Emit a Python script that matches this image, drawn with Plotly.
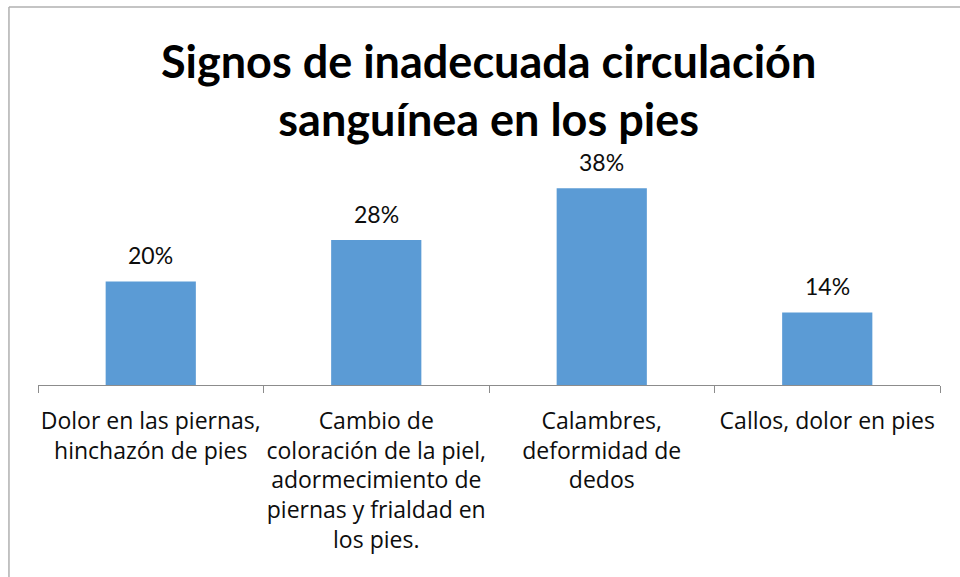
import plotly.graph_objects as go

categories = [
    "Dolor en las piernas,<br>hinchazón de pies",
    "Cambio de<br>coloración de la piel,<br>adormecimiento de<br>piernas y frialdad en<br>los pies.",
    "Calambres,<br>deformidad de<br>dedos",
    "Callos, dolor en pies",
]
values = [0.20, 0.28, 0.38, 0.14]
value_labels = ["20%", "28%", "38%", "14%"]
title_text = "Signos de inadecuada circulación<br>sanguínea en los pies"

FONT = "Lato"
TICKFONT = "Open Sans"

fig = go.Figure()
fig.add_trace(go.Bar(
    x=categories, y=values,
    marker=dict(color="#5b9bd5", line=dict(width=0)),
    hoverinfo="skip",
))

for c, v, t in zip(categories, values, value_labels):
    fig.add_annotation(x=c, y=v, text=t, showarrow=False, yanchor="bottom",
                       yshift=10, font=dict(family=FONT, size=23, color="#0d0d0d"))

fig.add_shape(type="line", xref="paper", yref="paper",
              x0=-0.0322, x1=1.2, y0=1.758, y1=1.758,
              line=dict(color="#b0b0b0", width=1.5))
fig.add_shape(type="line", xref="paper", yref="paper",
              x0=-0.0322, x1=-0.0322, y0=1.758, y1=-1.2,
              line=dict(color="#b0b0b0", width=1.5))

fig.update_layout(
    width=960, height=577,
    margin=dict(l=38, r=20, t=170, b=192),
    paper_bgcolor="white", plot_bgcolor="white",
    bargap=0.6,
    showlegend=False,
    title=dict(text=title_text, x=0.509, xanchor="center", y=0.865, yanchor="middle",
               font=dict(family=FONT, size=45, color="#000000", weight="bold")),
    xaxis=dict(showline=True, linecolor="#8c8c8c", linewidth=1,
               ticks="outside", tickson="boundaries", ticklen=7, tickcolor="#8c8c8c",
               ticklabelstandoff=15, tickangle=0,
               tickfont=dict(family=TICKFONT, size=23, color="#0d0d0d"),
               showgrid=False, automargin=False),
    yaxis=dict(range=[0, 0.415], visible=False, showgrid=False, zeroline=False),
)

fig.write_html("out.html", config={"displayModeBar": False},
               post_script="document.body.style.margin='0';")
